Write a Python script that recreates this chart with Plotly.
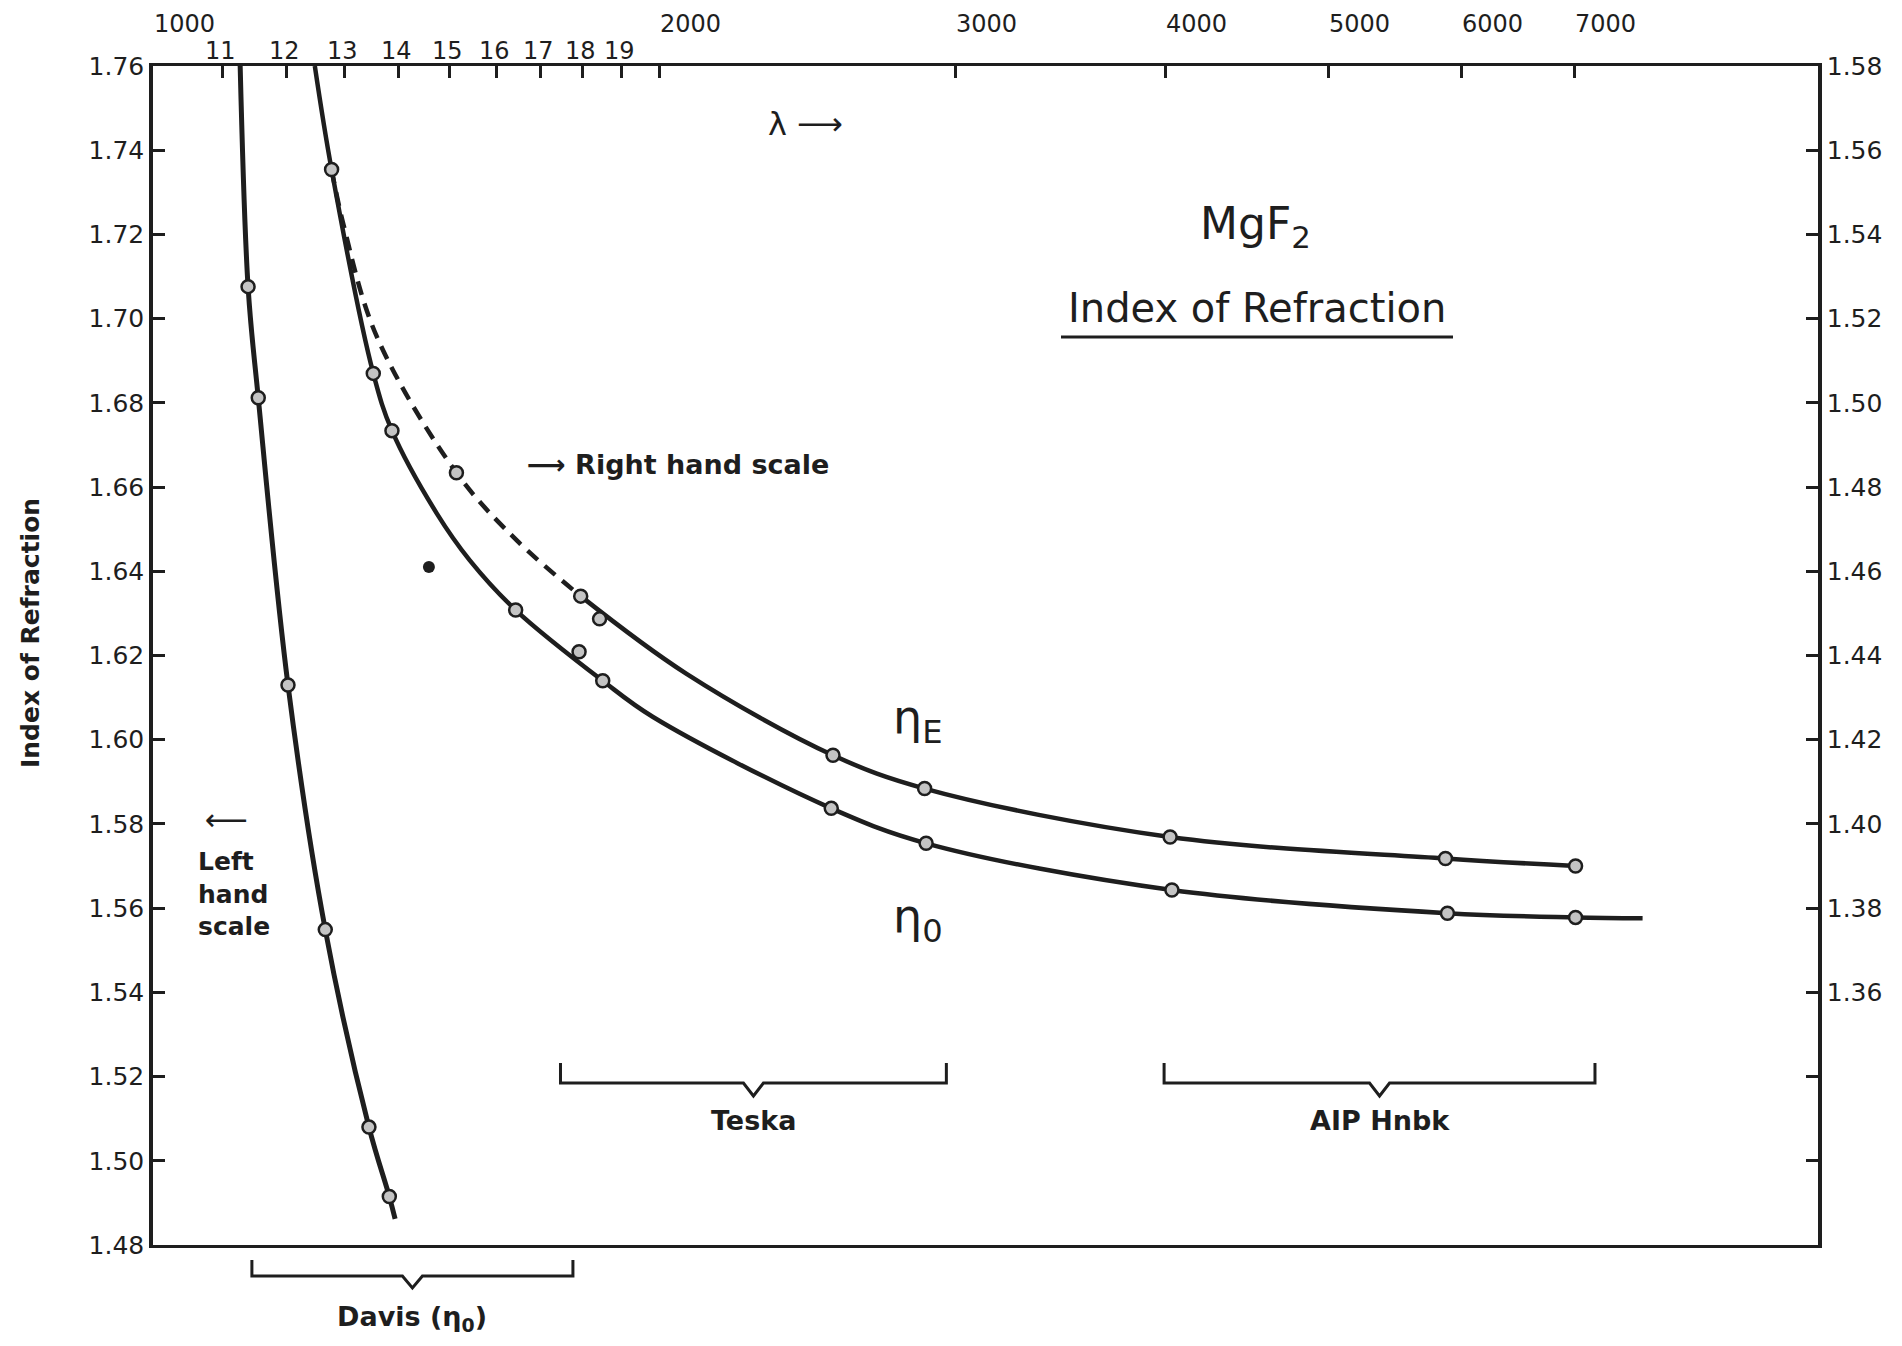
import math
import plotly.graph_objects as go

# ---------------- data ----------------
# Left-hand scale: Davis (eta_0), wavelength in Angstrom
DAVIS_CURVE_WL = [1125, 1139, 1155, 1203, 1266, 1344, 1382, 1393]
DAVIS_CURVE_N = [1.771, 1.7076, 1.6812, 1.6130, 1.5549, 1.5080, 1.4915, 1.4862]
DAVIS_PTS_WL = [1139, 1155, 1203, 1266, 1344, 1382]
DAVIS_PTS_N = [1.7076, 1.6812, 1.6130, 1.5549, 1.5080, 1.4915]

# Right-hand scale: ordinary index eta_0 (curve as drawn, then measured points)
N0_CURVE_WL = [1248, 1277, 1352, 1387, 1475, 1543, 1643, 1851, 1983, 2531, 2882,
               4035, 5884, 7012, 7686]
N0_CURVE_N = [1.580, 1.5554, 1.5070, 1.4934, 1.4737, 1.4626, 1.4508, 1.4340,
              1.4254, 1.4037, 1.3954, 1.3843, 1.3788, 1.3778, 1.3776]
N0_PTS_WL = [1277, 1352, 1387, 1643, 1851, 2531, 2882, 4035, 5884, 7012]
N0_PTS_N = [1.5554, 1.5070, 1.4934, 1.4508, 1.4340, 1.4037, 1.3954, 1.3843, 1.3788, 1.3778]

# Right-hand scale: extraordinary index eta_E
NE_DASH_WL = [1277, 1298, 1358, 1515, 1645, 1796]
NE_DASH_N = [1.5554, 1.5423, 1.5159, 1.4834, 1.4674, 1.4541]
NE_CURVE_WL = [1796, 2075, 2537, 2876, 4025, 5868, 7012]
NE_CURVE_N = [1.4541, 1.4357, 1.4163, 1.4084, 1.3969, 1.3918, 1.3900]
NE_PTS_WL = [1515, 1796, 2537, 2876, 4025, 5868, 7012]
NE_PTS_N = [1.4834, 1.4541, 1.4163, 1.4084, 1.3969, 1.3918, 1.3900]

# Other single measurements (right-hand scale)
EXTRA_OPEN_WL = [1792, 1843]
EXTRA_OPEN_N = [1.4409, 1.4487]
EXTRA_FILLED_WL = [1459]
EXTRA_FILLED_N = [1.4610]

# Axes
X_LOG_RANGE = [3.0, 3.99]
TOP_TICKS = [1000, 1100, 1200, 1300, 1400, 1500, 1600, 1700, 1800, 1900,
             2000, 3000, 4000, 5000, 6000, 7000]
TOP_SMALL_TICKS = [1100, 1200, 1300, 1400, 1500, 1600, 1700, 1800, 1900]
TOP_SMALL_LABELS = ["11", "12", "13", "14", "15", "16", "17", "18", "19"]
TOP_BIG_TICKS = [1000, 2000, 3000, 4000, 5000, 6000, 7000]
TOP_BIG_LABELS = ["1000", "2000", "3000", "4000", "5000", "6000", "7000"]
LEFT_TICKS = [1.48, 1.50, 1.52, 1.54, 1.56, 1.58, 1.60, 1.62, 1.64, 1.66,
              1.68, 1.70, 1.72, 1.74, 1.76]
RIGHT_TICKS = [1.32, 1.34, 1.36, 1.38, 1.40, 1.42, 1.44, 1.46, 1.48, 1.50,
               1.52, 1.54, 1.56, 1.58]
RIGHT_LABELS = ["", "", "1.36", "1.38", "1.40", "1.42", "1.44", "1.46", "1.48",
                "1.50", "1.52", "1.54", "1.56", "1.58"]

# Source brackets (wavelength spans)
BRACKET_LABELS = ["Teska", "AIP Hnbk", "Davis (η<sub>0</sub>)"]
BRACKET_FROM = [1747, 3992, 1145]
BRACKET_TO = [2963, 7201, 1777]

# ---------------- layout geometry ----------------
W, H = 1902, 1346
L, R, T, B = 153, 84, 66, 101
PW, PH = W - L - R, H - T - B
INK = "#1e1e1e"
FONT = "DejaVu Sans"


def px_x(px):
    return (px - L) / PW


def px_y(py):
    return (H - B - py) / PH


def wl_paper(v):
    return (math.log10(v) - X_LOG_RANGE[0]) / (X_LOG_RANGE[1] - X_LOG_RANGE[0])


fig = go.Figure()

line_thick = dict(color=INK, width=5, shape="spline", smoothing=1.0)
line_mid = dict(color=INK, width=4.5, shape="spline", smoothing=1.0)
open_marker = dict(size=13, color="#c4c4c4", line=dict(color=INK, width=2.5))

fig.add_trace(go.Scatter(x=DAVIS_CURVE_WL, y=DAVIS_CURVE_N, mode="lines",
                         line=line_thick, yaxis="y", hoverinfo="skip"))
fig.add_trace(go.Scatter(x=DAVIS_PTS_WL, y=DAVIS_PTS_N, mode="markers",
                         marker=open_marker, yaxis="y"))

fig.add_trace(go.Scatter(x=N0_CURVE_WL, y=N0_CURVE_N, mode="lines",
                         line=line_mid, yaxis="y2", hoverinfo="skip"))
fig.add_trace(go.Scatter(x=NE_DASH_WL, y=NE_DASH_N, mode="lines",
                         line=dict(color=INK, width=4.5, dash="14px,9px", shape="spline", smoothing=1.0),
                         yaxis="y2", hoverinfo="skip"))
fig.add_trace(go.Scatter(x=NE_CURVE_WL, y=NE_CURVE_N, mode="lines",
                         line=line_mid, yaxis="y2", hoverinfo="skip"))
fig.add_trace(go.Scatter(x=N0_PTS_WL, y=N0_PTS_N, mode="markers",
                         marker=open_marker, yaxis="y2"))
fig.add_trace(go.Scatter(x=NE_PTS_WL, y=NE_PTS_N, mode="markers",
                         marker=open_marker, yaxis="y2"))
fig.add_trace(go.Scatter(x=EXTRA_OPEN_WL, y=EXTRA_OPEN_N, mode="markers",
                         marker=open_marker, yaxis="y2"))
fig.add_trace(go.Scatter(x=EXTRA_FILLED_WL, y=EXTRA_FILLED_N, mode="markers",
                         marker=dict(size=12, color=INK), yaxis="y2"))

annotations = []


def ann(text, px, py, size, bold=False, xanchor="center", **kw):
    d = dict(text=("<b>%s</b>" % text) if bold else text, xref="paper", yref="paper",
             x=px_x(px), y=px_y(py), showarrow=False, xanchor=xanchor, yanchor="middle",
             font=dict(family=FONT, size=size, color=INK))
    d.update(kw)
    annotations.append(d)


# top labels: first row (thousands, set right of their ticks), second row (hundreds)
for v, lab in zip(TOP_BIG_TICKS, TOP_BIG_LABELS):
    annotations.append(dict(text=lab, xref="paper", yref="paper", x=wl_paper(v), y=px_y(24),
                            xshift=31, xanchor="center", yanchor="middle", showarrow=False,
                            font=dict(family=FONT, size=24, color=INK)))
for v, lab in zip(TOP_SMALL_TICKS, TOP_SMALL_LABELS):
    annotations.append(dict(text=lab, xref="paper", yref="paper", x=wl_paper(v), y=px_y(51),
                            xshift=-2, xanchor="center", yanchor="middle", showarrow=False,
                            font=dict(family=FONT, size=24, color=INK)))

ann("λ ⟶", 805, 124, 32)
ann("MgF<sub>2</sub>", 1255, 226, 44)
ann("Index of Refraction", 1257, 308, 40)
ann("⟶ Right hand scale", 678, 465, 27, bold=True)
ann("η<sub>E</sub>", 918, 720, 46)
ann("η<sub>0</sub>", 918, 920, 46)
ann("⟵", 226, 819, 30)
ann("Left<br>hand<br>scale", 196, 894, 25, bold=True, xanchor="left", align="left")
ann("Index of Refraction", 30, 633, 25, bold=True, textangle=-90)

shapes = []
# underline of title
shapes.append(dict(type="line", xref="paper", yref="paper", x0=px_x(1061), x1=px_x(1453),
                   y0=px_y(337), y1=px_y(337), line=dict(color=INK, width=3)))

# brackets
for label, a, b in zip(BRACKET_LABELS, BRACKET_FROM, BRACKET_TO):
    if label.startswith("Davis"):
        ytop, ybot, ynot, ylab = px_y(1260), px_y(1276), px_y(1288), px_y(1318)
    else:
        ytop, ybot, ynot, ylab = px_y(1063), px_y(1083), px_y(1096), px_y(1120)
    xa, xb = wl_paper(a), wl_paper(b)
    xc = (xa + xb) / 2
    d = 10 / PW
    path = (f"M {xa},{ytop} L {xa},{ybot} L {xc - d},{ybot} L {xc},{ynot} "
            f"L {xc + d},{ybot} L {xb},{ybot} L {xb},{ytop}")
    shapes.append(dict(type="path", xref="paper", yref="paper", path=path,
                       line=dict(color=INK, width=3)))
    annotations.append(dict(text="<b>%s</b>" % label, xref="paper", yref="paper",
                            x=xc, y=ylab, xanchor="center", yanchor="middle", showarrow=False,
                            font=dict(family=FONT, size=27, color=INK)))

fig.update_layout(
    width=W, height=H,
    margin=dict(l=L, r=R, t=T, b=B, pad=0, autoexpand=False),
    paper_bgcolor="white", plot_bgcolor="white",
    showlegend=False,
    font=dict(family=FONT, color=INK),
    xaxis=dict(type="log", range=X_LOG_RANGE, side="top", showgrid=False, zeroline=False,
               showline=True, linecolor=INK, linewidth=3, mirror=True,
               ticks="inside", ticklen=12, tickwidth=2.5, tickcolor=INK,
               tickvals=TOP_TICKS, showticklabels=False),
    yaxis=dict(range=[1.48, 1.76], showgrid=False, zeroline=False, showline=True,
               linecolor=INK, linewidth=3.5, ticks="inside", ticklen=12, tickwidth=2.5,
               tickcolor=INK, tickvals=LEFT_TICKS, ticktext=["%.2f" % v for v in LEFT_TICKS],
               tickfont=dict(family=FONT, size=25, color=INK)),
    yaxis2=dict(range=[1.30, 1.58], overlaying="y", side="right", showgrid=False,
                zeroline=False, showline=True, linecolor=INK, linewidth=3.5,
                ticks="inside", ticklen=12, tickwidth=2.5, tickcolor=INK,
                tickvals=RIGHT_TICKS, ticktext=RIGHT_LABELS,
                tickfont=dict(family=FONT, size=25, color=INK)),
    annotations=annotations,
    shapes=shapes,
)

fig.write_html("out.html", config={"displayModeBar": False},
               post_script="document.body.style.margin='0';document.body.style.overflow='hidden';")
